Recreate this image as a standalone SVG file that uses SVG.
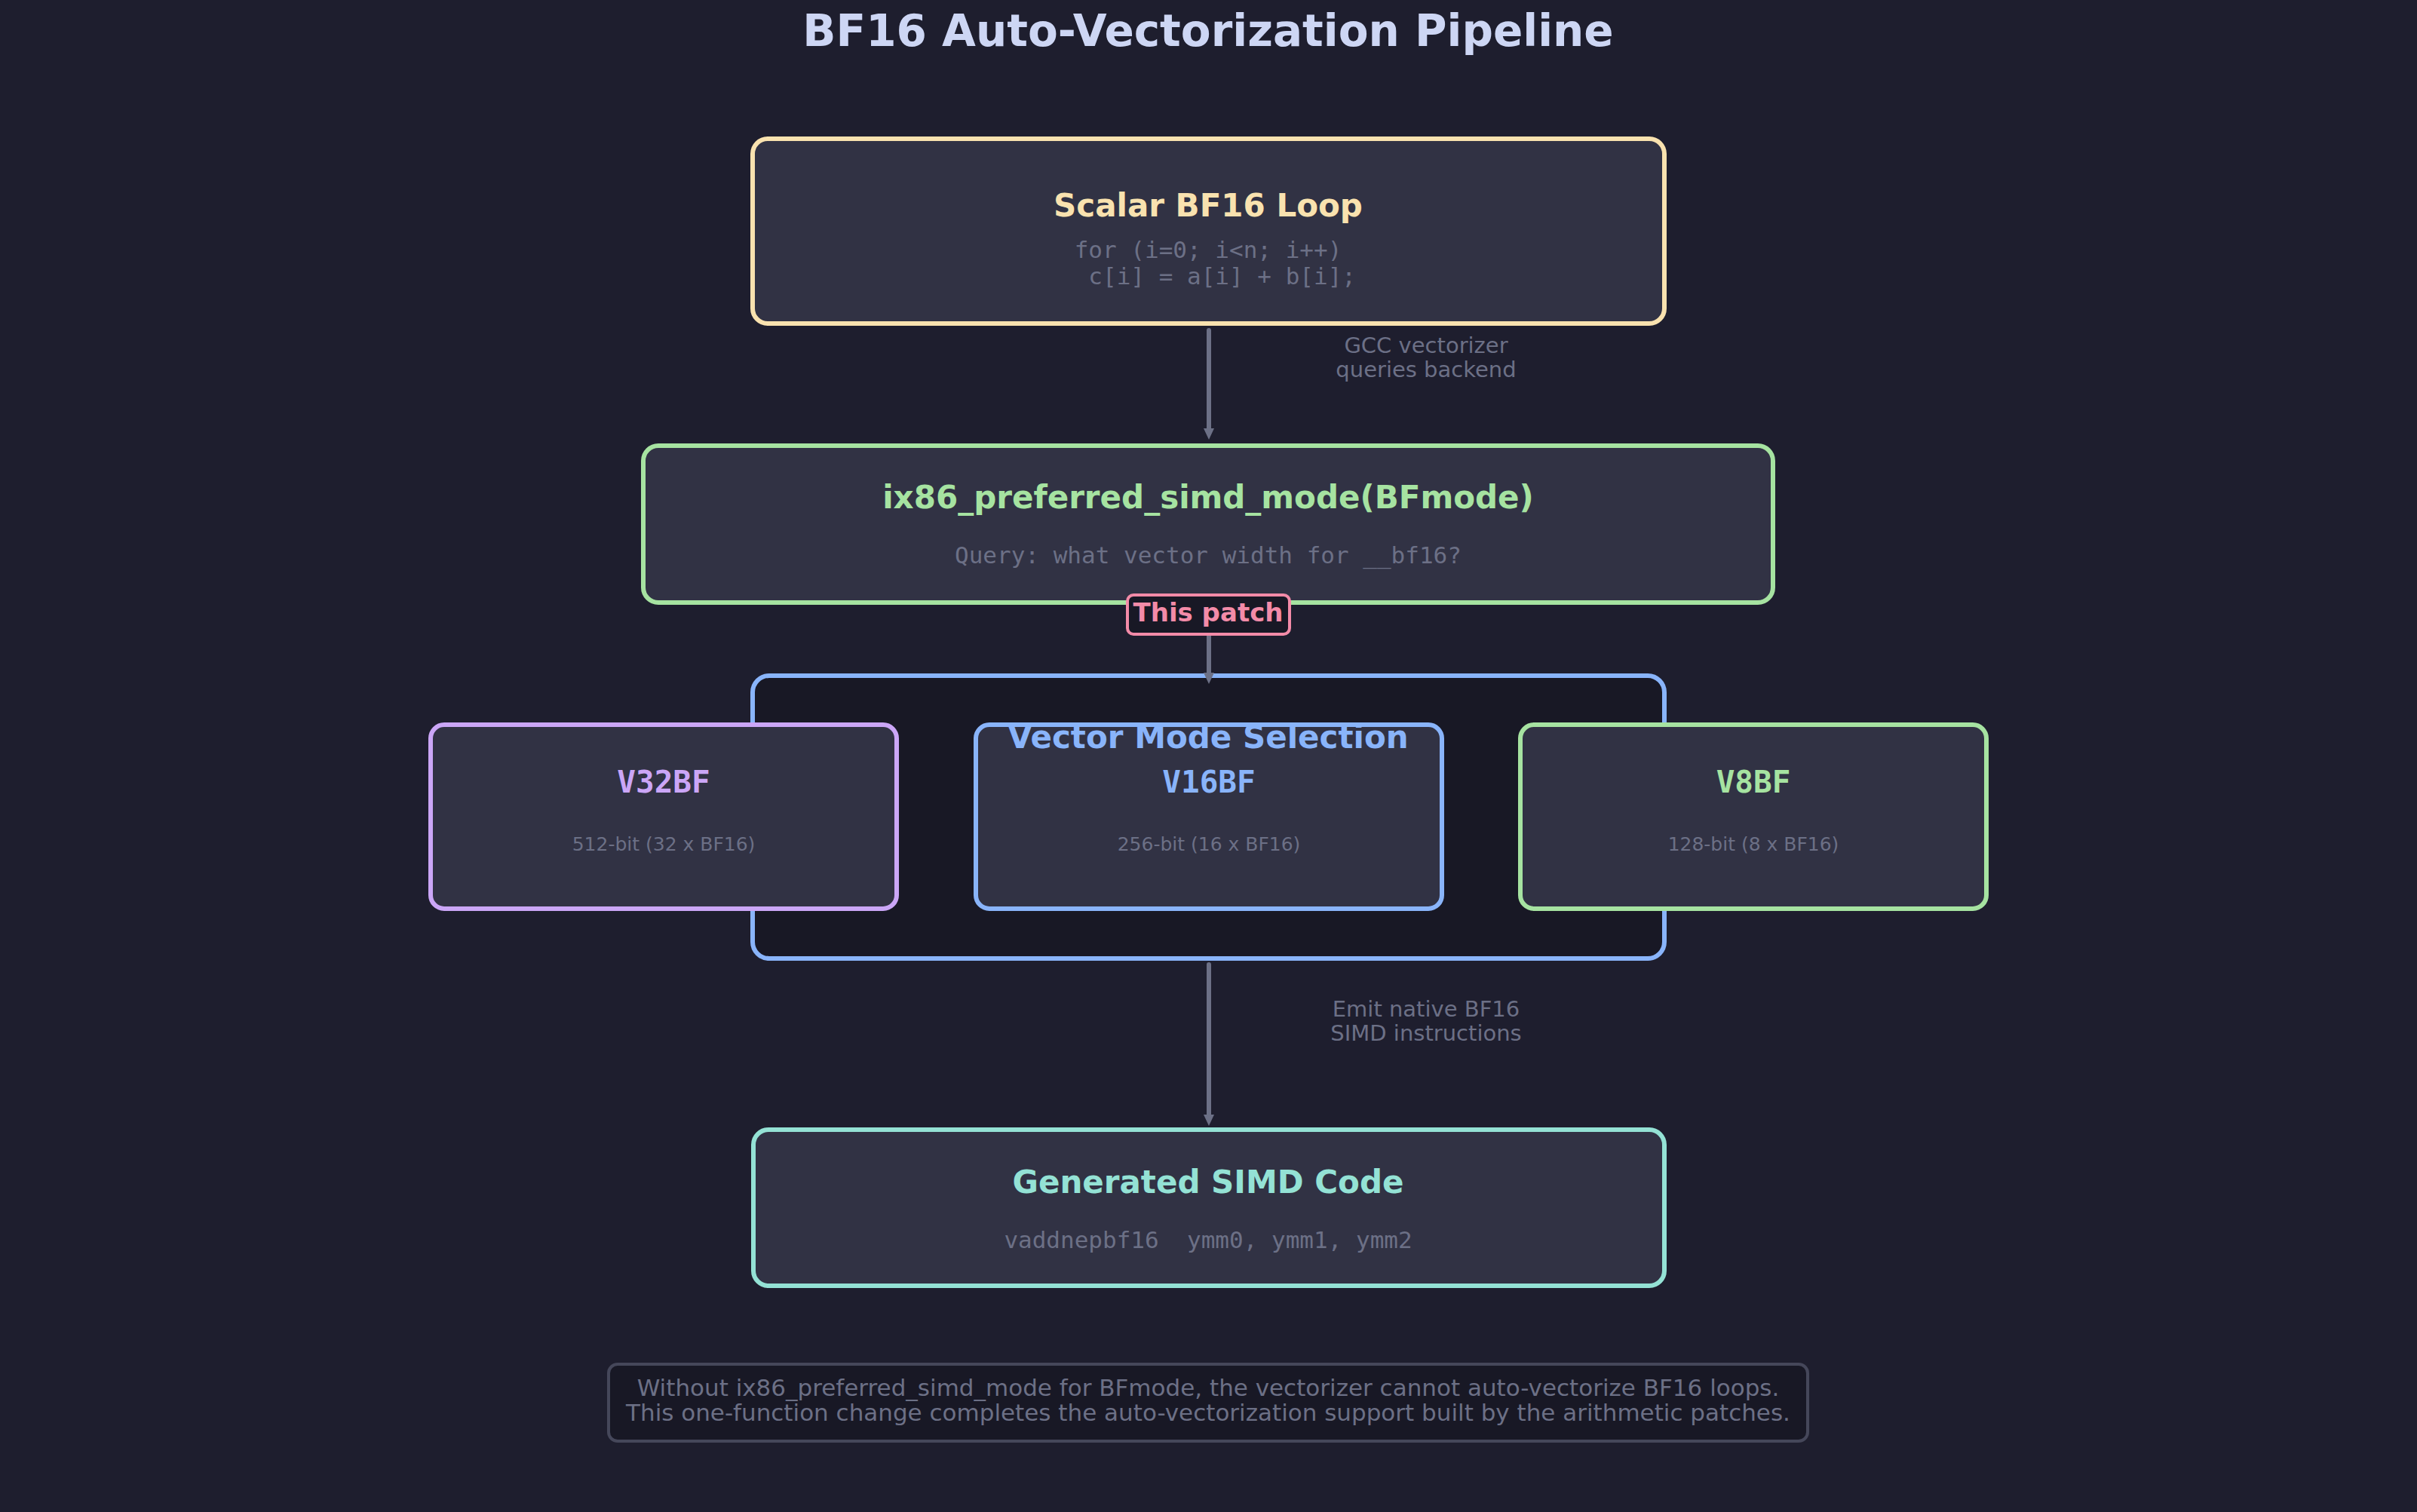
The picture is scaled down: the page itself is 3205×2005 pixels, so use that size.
<svg xmlns="http://www.w3.org/2000/svg" width="3205" height="2005" viewBox="0 0 3205 2005">
<style>
.bg{fill:#1e1e2e}
.box{fill:#313244;stroke-width:6}
.head{font-family:"DejaVu Sans","Liberation Sans",sans-serif;font-weight:bold;font-size:42px;text-anchor:middle}
.mhead{font-family:"DejaVu Sans Mono","Liberation Mono",monospace;font-weight:bold;font-size:41px;text-anchor:middle}
.code{font-family:"DejaVu Sans Mono","Liberation Mono",monospace;font-size:31px;fill:#6c7086;text-anchor:middle;white-space:pre}
.small{font-family:"DejaVu Sans","Liberation Sans",sans-serif;font-size:25px;fill:#6c7086;text-anchor:middle}
.lbl{font-family:"DejaVu Sans","Liberation Sans",sans-serif;font-size:29px;fill:#6c7086;text-anchor:middle}
.note{font-family:"DejaVu Sans","Liberation Sans",sans-serif;font-size:31px;fill:#6c7086;text-anchor:middle}
.edge{stroke:#6c7086;stroke-width:6;stroke-linecap:round;fill:none}
</style>
<defs>
<marker id="arrow" markerUnits="userSpaceOnUse" markerWidth="16" markerHeight="16" refX="0" refY="7" orient="auto">
<path d="M0,0 L15,7 L0,14 z" fill="#6c7086"/>
</marker>
</defs>
<rect class="bg" x="0" y="0" width="3205" height="2005"/>
<text x="1602" y="61" font-family="DejaVu Sans, Liberation Sans, sans-serif" font-weight="bold" font-size="58" fill="#cdd6f4" text-anchor="middle">BF16 Auto-Vectorization Pipeline</text>

<g id="scalar-loop">
<rect class="box" x="998" y="184" width="1209" height="245" rx="20" stroke="#f9e2af"/>
<text class="head" x="1602" y="287" fill="#f9e2af">Scalar BF16 Loop</text>
<text class="code" x="1602" y="342" xml:space="preserve">for (i=0; i&lt;n; i++)</text>
<text class="code" x="1602" y="377" xml:space="preserve">  c[i] = a[i] + b[i];</text>
</g>

<g id="preferred-simd-mode">
<rect class="box" x="853" y="591" width="1498" height="208" rx="20" stroke="#a6e3a1"/>
<text class="head" x="1602" y="674" fill="#a6e3a1">ix86_preferred_simd_mode(BFmode)</text>
<text class="code" x="1602" y="747">Query: what vector width for __bf16?</text>
</g>

<g id="vector-mode-selection">
<rect x="998" y="896" width="1209" height="375" rx="22" fill="#181825" stroke="#89b4fa" stroke-width="6"/>
</g>

<g id="v32bf">
<rect class="box" x="571" y="961" width="618" height="244" rx="18" stroke="#cba6f7"/>
<text class="mhead" x="880" y="1051" fill="#cba6f7">V32BF</text>
<text class="small" x="880" y="1128">512-bit (32 x BF16)</text>
</g>

<g id="v16bf">
<rect class="box" x="1294" y="961" width="618" height="244" rx="18" stroke="#89b4fa"/>
<text class="mhead" x="1603" y="1051" fill="#89b4fa">V16BF</text>
<text class="small" x="1603" y="1128">256-bit (16 x BF16)</text>
</g>

<g id="v8bf">
<rect class="box" x="2016" y="961" width="618" height="244" rx="18" stroke="#a6e3a1"/>
<text class="mhead" x="2325" y="1051" fill="#a6e3a1">V8BF</text>
<text class="small" x="2325" y="1128">128-bit (8 x BF16)</text>
</g>

<g id="vector-mode-selection-title">
<text class="head" x="1602" y="992" fill="#89b4fa">Vector Mode Selection</text>
</g>

<g id="generated-simd">
<rect class="box" x="999" y="1498" width="1208" height="207" rx="20" stroke="#94e2d5"/>
<text class="head" x="1602" y="1582" fill="#94e2d5">Generated SIMD Code</text>
<text class="code" x="1602" y="1655" xml:space="preserve">vaddnepbf16  ymm0, ymm1, ymm2</text>
</g>

<g id="note">
<rect x="807" y="1809" width="1590" height="102" rx="12" fill="#181825" stroke="#45475a" stroke-width="4"/>
<text class="note" x="1602" y="1851">Without ix86_preferred_simd_mode for BFmode, the vectorizer cannot auto-vectorize BF16 loops.</text>
<text class="note" x="1602" y="1884">This one-function change completes the auto-vectorization support built by the arithmetic patches.</text>
</g>

<g id="connectors">
<line class="edge" x1="1603" y1="438" x2="1603" y2="568" marker-end="url(#arrow)"/>
<text class="lbl" x="1891" y="468">GCC vectorizer</text>
<text class="lbl" x="1891" y="500">queries backend</text>
<line class="edge" x1="1603" y1="843" x2="1603" y2="892" marker-end="url(#arrow)"/>
<line class="edge" x1="1603" y1="1279" x2="1603" y2="1478" marker-end="url(#arrow)"/>
<text class="lbl" x="1891" y="1348">Emit native BF16</text>
<text class="lbl" x="1891" y="1380">SIMD instructions</text>
<g id="this-patch">
<rect x="1495" y="789" width="215" height="52" rx="8" fill="#181825" stroke="#f38ba8" stroke-width="4"/>
<text x="1602" y="824" font-family="DejaVu Sans, Liberation Sans, sans-serif" font-weight="bold" font-size="34" fill="#f38ba8" text-anchor="middle">This patch</text>
</g>
</g>
</svg>
